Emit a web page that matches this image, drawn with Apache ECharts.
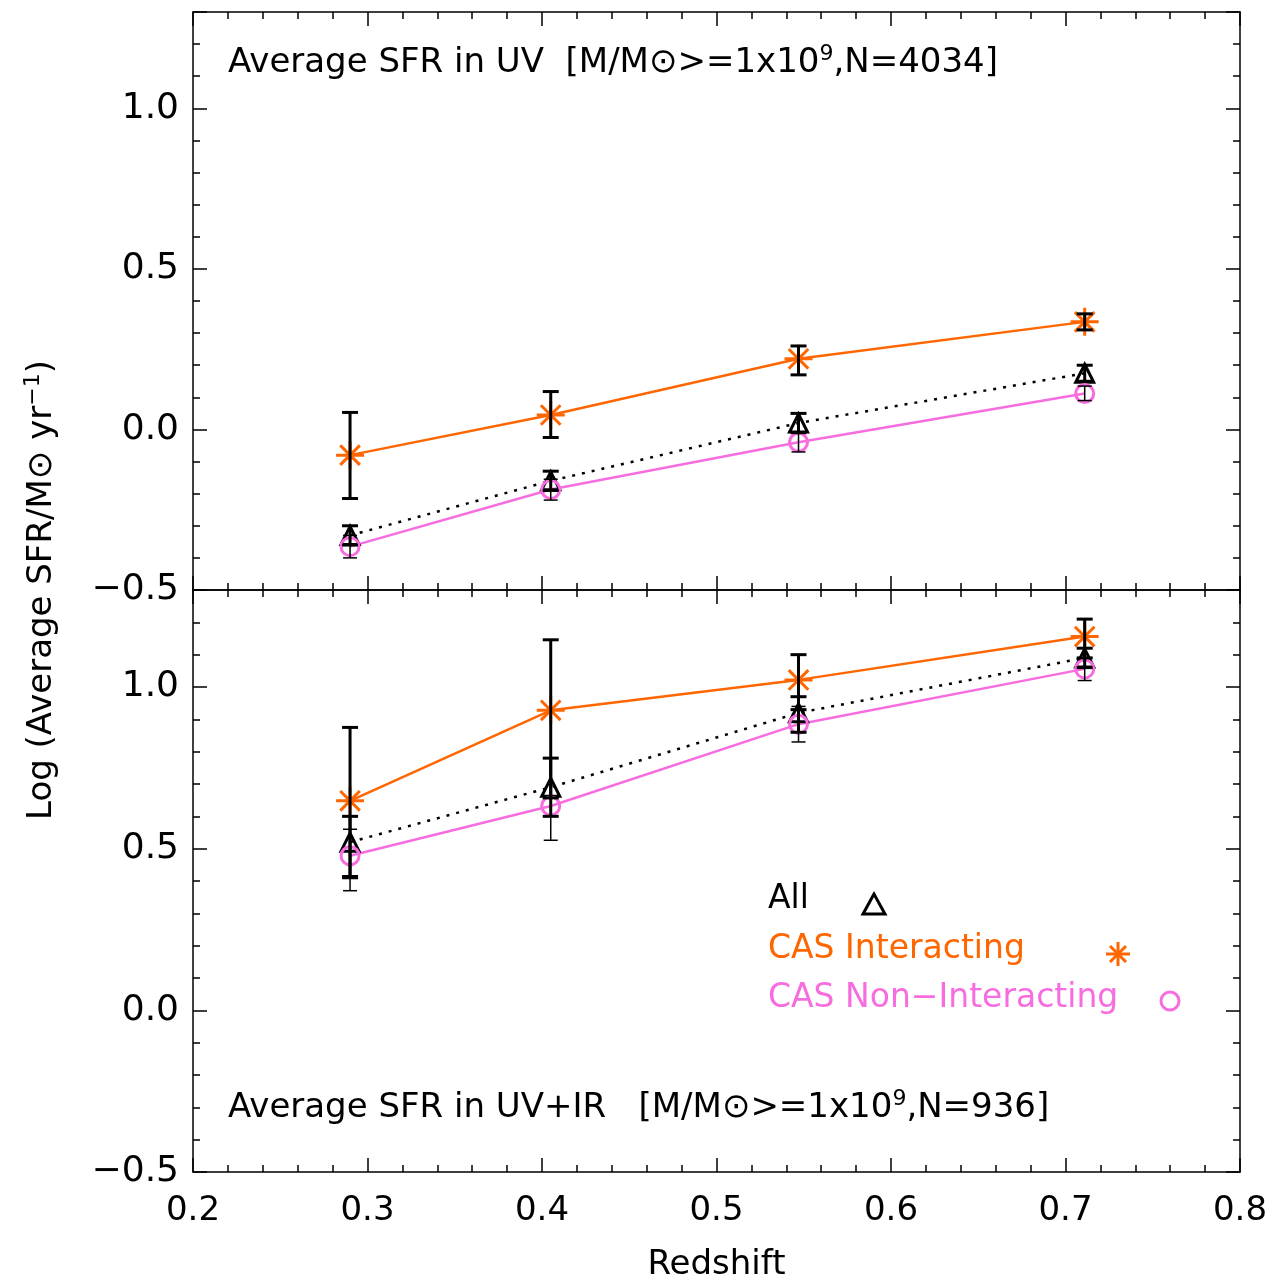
<!DOCTYPE html>
<html><head><meta charset="utf-8">
<script src="https://cdn.jsdelivr.net/npm/echarts@6/dist/echarts.min.js"></script>
<style>html,body{margin:0;background:#fff}#c{width:1265px;height:1286px}</style>
</head><body><div id="c"></div>
<script>
var zs = [0.29, 0.405, 0.547, 0.711];
// top panel: UV
var uvAll = [-0.33, -0.16, 0.02, 0.175];
var uvAllErr = [[-0.36, -0.30], [-0.19, -0.13], [-0.01, 0.05], [0.15, 0.20]];
var uvInt = [-0.08, 0.045, 0.22, 0.335];
var uvIntErr = [[-0.215, 0.053], [-0.025, 0.118], [0.17, 0.26], [0.31, 0.36]];
var uvNon = [-0.365, -0.187, -0.04, 0.112];
var uvNonErr = [[-0.40, -0.33], [-0.22, -0.155], [-0.07, -0.01], [0.09, 0.135]];
// bottom panel: UV+IR
var irAll = [0.52, 0.69, 0.92, 1.09];
var irAllErr = [[0.41, 0.60], [0.60, 0.78], [0.86, 0.97], [1.06, 1.12]];
var irInt = [0.648, 0.928, 1.022, 1.156];
var irIntErr = [[0.414, 0.875], [0.657, 1.146], [0.93, 1.10], [1.09, 1.21]];
var irNon = [0.478, 0.632, 0.885, 1.056];
var irNonErr = [[0.37, 0.56], [0.526, 0.78], [0.83, 0.94], [1.02, 1.09]];

var ORANGE = '#ff6600', PINK = '#f76de0';
var FONT = 'DejaVu Sans';
var star = 'path://M0,-1L0,1M-1,0L1,0M-0.7,-0.7L0.7,0.7M-0.7,0.7L0.7,-0.7';

function pts(v) { return zs.map(function (z, i) { return [z, v[i]]; }); }
function errData(e) { return zs.map(function (z, i) { return [z, e[i][0], e[i][1]]; }); }
function errSeries(e, g, w, cap) {
  return {
    type: 'custom', xAxisIndex: g, yAxisIndex: g, z: 7, data: errData(e),
    renderItem: function (p, api) {
      var lo = api.coord([api.value(0), api.value(1)]);
      var hi = api.coord([api.value(0), api.value(2)]);
      var st = { stroke: '#000', lineWidth: w };
      return { type: 'group', children: [
        { type: 'line', shape: { x1: lo[0], y1: lo[1], x2: hi[0], y2: hi[1] }, style: st },
        { type: 'line', shape: { x1: lo[0] - cap, y1: lo[1], x2: lo[0] + cap, y2: lo[1] }, style: st },
        { type: 'line', shape: { x1: hi[0] - cap, y1: hi[1], x2: hi[0] + cap, y2: hi[1] }, style: st }
      ]};
    }
  };
}
function lineSeries(v, g, color, type, symbol, size, lw) {
  return {
    type: 'line', xAxisIndex: g, yAxisIndex: g, data: pts(v), z: 6,
    symbol: symbol, symbolSize: size,
    lineStyle: { color: color, width: lw, type: type },
    itemStyle: { color: 'rgba(0,0,0,0)', borderColor: color, borderWidth: 3 }
  };
}
function xAx(g, pos, labels) {
  return {
    type: 'value', gridIndex: g, position: pos, min: 0.2, max: 0.8, interval: 0.1,
    axisLine: { show: true, onZero: false, lineStyle: { color: '#000', width: 1.5 } },
    axisTick: { inside: true, length: 14, lineStyle: { color: '#000', width: 1.5 } },
    minorTick: { show: true, splitNumber: 5, length: 7, lineStyle: { color: '#000', width: 1.5 } },
    splitLine: { show: false },
    axisLabel: { show: labels, color: '#000', fontSize: 34, fontFamily: FONT, margin: 22,
      formatter: function (v) { return v.toFixed(1); } },
    name: labels ? 'Redshift' : '', nameLocation: 'middle', nameGap: 76,
    nameTextStyle: { color: '#000', fontSize: 34, fontFamily: FONT }
  };
}
function yAx(g, pos, labels) {
  return {
    type: 'value', gridIndex: g, position: pos, min: -0.5, max: 1.3, interval: 0.5,
    axisLine: { show: true, onZero: false, lineStyle: { color: '#000', width: 1.5 } },
    axisTick: { inside: true, length: 14, lineStyle: { color: '#000', width: 1.5 } },
    minorTick: { show: true, splitNumber: 5, length: 7, lineStyle: { color: '#000', width: 1.5 } },
    splitLine: { show: false },
    axisLabel: { show: labels, color: '#000', fontSize: 36, fontFamily: FONT, margin: 14,
      showMaxLabel: false,
      formatter: function (v) { return v < 0 ? '\u2212' + (-v).toFixed(1) : v.toFixed(1); } }
  };
}

var chart = echarts.init(document.getElementById('c'));
var title = {
  a: { fontSize: 34, fontFamily: FONT, fill: '#000' },
  s: { fontSize: 22, fontFamily: FONT, fill: '#000', verticalAlign: 'top', padding: [0, 0, 18, 0] }
};
chart.setOption({
  animation: false,
  grid: [
    { left: 193, width: 1047, top: 12, height: 578, outerBoundsMode: 'none', containLabel: false },
    { left: 193, width: 1047, top: 590, height: 582, outerBoundsMode: 'none', containLabel: false }
  ],
  xAxis: [xAx(0, 'bottom', false), xAx(1, 'bottom', true), xAx(0, 'top', false), xAx(1, 'top', false)],
  yAxis: [yAx(0, 'left', true), yAx(1, 'left', true), yAx(0, 'right', false), yAx(1, 'right', false)],
  series: [
    errSeries(uvIntErr, 0, 3, 8), errSeries(uvAllErr, 0, 3, 8), errSeries(uvNonErr, 0, 1.5, 7),
    lineSeries(uvAll, 0, '#000', [3, 7], 'triangle', 18, 2.5),
    lineSeries(uvInt, 0, ORANGE, 'solid', star, 28, 2.5),
    lineSeries(uvNon, 0, PINK, 'solid', 'circle', 18, 2.5),
    errSeries(irIntErr, 1, 3, 8), errSeries(irAllErr, 1, 3, 8), errSeries(irNonErr, 1, 1.5, 7),
    lineSeries(irAll, 1, '#000', [3, 7], 'triangle', 18, 2.5),
    lineSeries(irInt, 1, ORANGE, 'solid', star, 28, 2.5),
    lineSeries(irNon, 1, PINK, 'solid', 'circle', 18, 2.5)
  ],
  graphic: [
    { type: 'text', left: 228, top: 43, style: { text: '{a|Average SFR in UV  [M/M\u2299>=1x10}{s|9}{a|,N=4034]}', rich: title } },
    { type: 'text', left: 228, top: 1088, style: { text: '{a|Average SFR in UV+IR   [M/M\u2299>=1x10}{s|9}{a|,N=936]}', rich: title } },
    { type: 'text', left: 768, top: 883, style: { text: 'All', fontSize: 33, fontFamily: FONT, fill: '#000' } },
    { type: 'text', left: 768, top: 933, style: { text: 'CAS Interacting', fontSize: 33, fontFamily: FONT, fill: ORANGE } },
    { type: 'text', left: 768, top: 982, style: { text: 'CAS Non\u2212Interacting', fontSize: 33, fontFamily: FONT, fill: PINK } },
    { type: 'polygon', shape: { points: [[874, 894], [863, 914], [885, 914]] }, style: { fill: 'none', stroke: '#000', lineWidth: 3 } },
    { type: 'polyline', shape: { points: [[1118, 942], [1118, 966]] }, style: { stroke: ORANGE, lineWidth: 3 } },
    { type: 'polyline', shape: { points: [[1106, 954], [1130, 954]] }, style: { stroke: ORANGE, lineWidth: 3 } },
    { type: 'polyline', shape: { points: [[1110, 946], [1126, 962]] }, style: { stroke: ORANGE, lineWidth: 3 } },
    { type: 'polyline', shape: { points: [[1110, 962], [1126, 946]] }, style: { stroke: ORANGE, lineWidth: 3 } },
    { type: 'circle', shape: { cx: 1170, cy: 1001, r: 9 }, style: { fill: 'none', stroke: PINK, lineWidth: 3 } },
    { type: 'text', x: 42, y: 590, rotation: Math.PI / 2, style: {
      text: '{a|Log (Average SFR/M\u2299 yr}{s|\u22121}{a|)}', align: 'center', verticalAlign: 'middle',
      rich: { a: { fontSize: 34, fontFamily: FONT, fill: '#000' },
              s: { fontSize: 22, fontFamily: FONT, fill: '#000', verticalAlign: 'top', padding: [0, 0, 18, 0] } } } }
  ]
});
</script>
</body></html>
